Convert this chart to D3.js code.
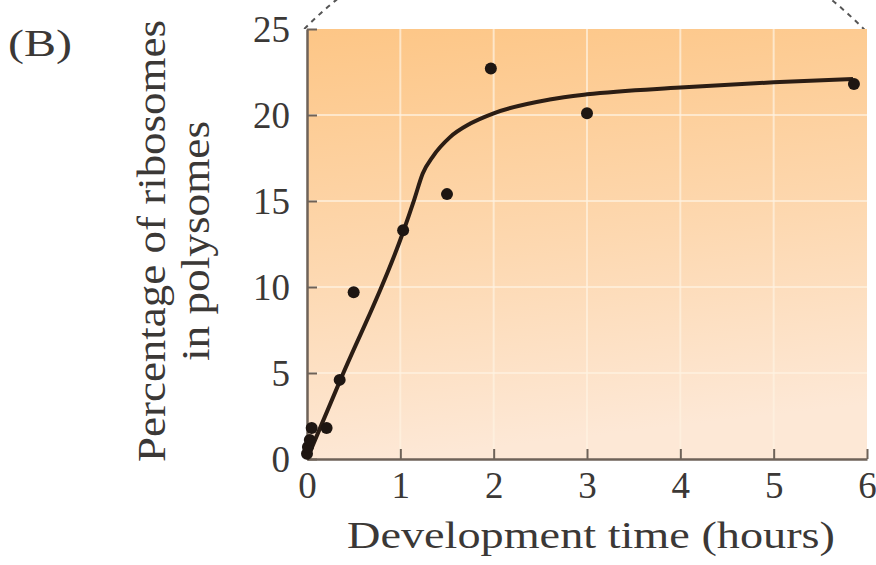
<!DOCTYPE html>
<html>
<head>
<meta charset="utf-8">
<script src="https://cdn.jsdelivr.net/npm/d3@7"></script>
<style>
  body { margin: 0; background: #fff; }
  svg { display: block; }
  text { font-family: "Liberation Serif", "DejaVu Serif", serif; fill: #3b3836; }
</style>
</head>
<body>
<svg width="876" height="565"></svg>
<script>
// measured points (hours, % ribosomes in polysomes)
var pointTime = [0.0, 0.01, 0.03, 0.05, 0.21, 0.35, 0.5, 1.03, 1.5, 1.97, 3.0, 5.86];
var pointPct  = [0.3, 0.7, 1.1, 1.8, 1.8, 4.6, 9.7, 13.3, 15.4, 22.7, 20.1, 21.8];

// fitted curve
var curveTime = [0, 0.35, 1.03, 1.15, 1.24, 1.35, 1.53, 1.75, 2.0, 2.6, 3.0, 4.0, 5.0, 5.85];
var curvePct  = [0, 4.5, 13.2, 15.1, 16.6, 17.6, 18.7, 19.5, 20.1, 20.9, 21.2, 21.6, 21.9, 22.1];

var xTicks = [0, 1, 2, 3, 4, 5, 6];
var yTicks = [0, 5, 10, 15, 20, 25];

var svg = d3.select("svg"),
    margin = {top: 29, right: 9, bottom: 106, left: 307},
    width = +svg.attr("width") - margin.left - margin.right,
    height = +svg.attr("height") - margin.top - margin.bottom;

var x = d3.scaleLinear().domain([0, 6]).range([0, width]);
var y = d3.scaleLinear().domain([0, 25]).range([height, 0]);

var defs = svg.append("defs");
var grad = defs.append("linearGradient")
    .attr("id", "bg")
    .attr("x1", 0).attr("y1", 0).attr("x2", 0.15).attr("y2", 1);
grad.append("stop").attr("offset", "0%").attr("stop-color", "#fdc686");
grad.append("stop").attr("offset", "55%").attr("stop-color", "#fdd8b0");
grad.append("stop").attr("offset", "100%").attr("stop-color", "#fde8d6");

defs.append("clipPath").attr("id", "topclip")
  .append("rect").attr("x", 0).attr("y", 0).attr("width", 876).attr("height", margin.top);

// dashed circle peeking out above the panel
svg.append("circle")
    .attr("cx", 584).attr("cy", 305).attr("r", 393)
    .attr("clip-path", "url(#topclip)")
    .style("fill", "none")
    .style("stroke", "#555")
    .style("stroke-width", 2)
    .style("stroke-dasharray", "5,5");

var g = svg.append("g").attr("transform", "translate(" + margin.left + "," + margin.top + ")");

g.append("rect")
    .attr("x", 0).attr("y", 0)
    .attr("width", width).attr("height", height)
    .style("fill", "url(#bg)");

// light grid
g.append("g").selectAll("line")
    .data(xTicks.slice(1, -1))
    .enter().append("line")
    .attr("x1", function (d) { return x(d); })
    .attr("x2", function (d) { return x(d); })
    .attr("y1", 0).attr("y2", height)
    .style("stroke", "#fff3e2").style("stroke-width", 2).style("opacity", 0.7);

g.append("g").selectAll("line")
    .data(yTicks.slice(1, -1))
    .enter().append("line")
    .attr("y1", function (d) { return y(d); })
    .attr("y2", function (d) { return y(d); })
    .attr("x1", 0).attr("x2", width)
    .style("stroke", "#fff3e2").style("stroke-width", 2).style("opacity", 0.7);

// axes with inward ticks
var xAxis = g.append("g")
    .attr("transform", "translate(0," + height + ")")
    .call(d3.axisBottom(x).tickValues(xTicks).tickFormat(d3.format("d")).tickSize(-10).tickSizeOuter(0));
var yAxis = g.append("g")
    .call(d3.axisLeft(y).tickValues(yTicks).tickFormat(d3.format("d")).tickSize(-10).tickPadding(17).tickSizeOuter(0));

[xAxis, yAxis].forEach(function (ax) {
    ax.select(".domain").style("stroke", "#6e6258").style("stroke-width", 2.5);
    ax.selectAll(".tick line").style("stroke", "#6e6258").style("stroke-width", 2);
    ax.selectAll("text").style("font-size", "37px").style("font-family", "Liberation Serif").style("fill", "#3b3836");
});
xAxis.selectAll("text").attr("y", 39).attr("dy", 0);
yAxis.selectAll("text").attr("dy", "0.35em");

// fitted curve
var line = d3.line()
    .x(function (d) { return x(d[0]); })
    .y(function (d) { return y(d[1]); })
    .curve(d3.curveMonotoneX);

g.append("path")
    .datum(d3.zip(curveTime, curvePct))
    .attr("d", line)
    .style("fill", "none")
    .style("stroke", "#2b1d14")
    .style("stroke-width", 4);

g.append("g").selectAll("circle")
    .data(d3.zip(pointTime, pointPct))
    .enter().append("circle")
    .attr("cx", function (d) { return x(d[0]); })
    .attr("cy", function (d) { return y(d[1]); })
    .attr("r", 6)
    .style("fill", "#1e1612");

// titles
svg.append("text")
    .attr("x", 8).attr("y", 56)
    .attr("textLength", 64).attr("lengthAdjust", "spacingAndGlyphs")
    .style("font-size", "37px")
    .text("(B)");

svg.append("text")
    .attr("x", 347).attr("y", 548)
    .attr("textLength", 488).attr("lengthAdjust", "spacingAndGlyphs")
    .style("font-size", "38px")
    .text("Development time (hours)");

var ylab = svg.append("text")
    .attr("transform", "translate(165,241) rotate(-90)")
    .attr("text-anchor", "middle")
    .style("font-size", "40px");
ylab.append("tspan").attr("x", 0).attr("y", 0)
    .attr("textLength", 442).attr("lengthAdjust", "spacingAndGlyphs")
    .text("Percentage of ribosomes");
ylab.append("tspan").attr("x", 0).attr("y", 44)
    .attr("textLength", 240).attr("lengthAdjust", "spacingAndGlyphs")
    .text("in polysomes");
</script>
</body>
</html>
